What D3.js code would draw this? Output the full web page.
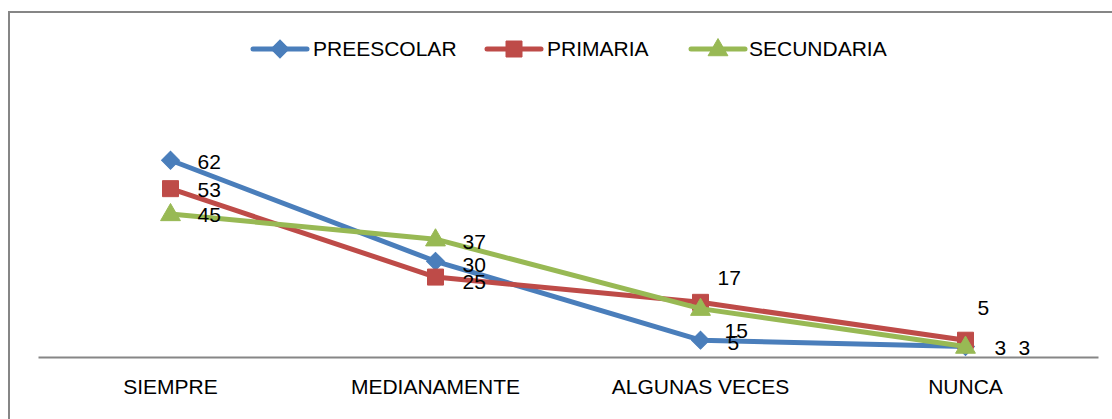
<!DOCTYPE html>
<html><head><meta charset="utf-8">
<script src="https://cdn.jsdelivr.net/npm/d3@7"></script>
<style>
html,body{margin:0;padding:0;background:#fff;}
svg{display:block;}
text{font-family:"Liberation Sans",Arial,sans-serif;fill:#000;}
</style></head>
<body>
<svg id="chart" width="1112" height="419"></svg>
<script>
const categories = ["SIEMPRE", "MEDIANAMENTE", "ALGUNAS VECES", "NUNCA"];
const seriesNames = ["PREESCOLAR", "PRIMARIA", "SECUNDARIA"];
const preescolar = [62, 30, 5, 3];
const primaria = [53, 25, 17, 5];
const secundaria = [45, 37, 15, 3];
const yMax = 70;

const colors = ["#4A7EBB", "#BE4B48", "#98B954"];
const shapes = ["diamond", "square", "triangle"];
const values = [preescolar, primaria, secundaria];

// per-label offsets (dx from point centre, dy of text centre from point centre)
const labelOffsets = [
  [[27, 1], [27, 3], [27, 2], [29, 1]],
  [[27, 1], [27, 5], [17, -25], [12, -33]],
  [[27, 1], [27, 2], [24, 22], [53, 1]]
];

const svg = d3.select("#chart");
const W = 1112, H = 419;

// frame
svg.append("rect").attr("x", 9).attr("y", 12).attr("width", 1300).attr("height", 600)
  .attr("fill", "none").attr("stroke", "#868686").attr("stroke-width", 2);

const x = d3.scaleBand().domain(categories).range([38, 1098]);
const y = d3.scaleLinear().domain([0, yMax]).range([356, 135]);
const cx = c => x(c) + x.bandwidth() / 2;

// category axis
const xAxis = d3.axisBottom(x).tickSize(0).tickPadding(22);
const gx = svg.append("g").attr("transform", "translate(0,357)").call(xAxis);
gx.select(".domain").attr("stroke", "#868686").attr("stroke-width", 2);
gx.selectAll("text").attr("font-size", 21).attr("font-family", "Liberation Sans, Arial, sans-serif").attr("fill", "#000");

function marker(g, shape, color, px, py) {
  if (shape === "diamond") {
    g.append("path").attr("d", d3.symbol().type(d3.symbolSquare).size(160)())
      .attr("transform", `translate(${px},${py}) rotate(45)`)
      .attr("fill", color).attr("stroke", color).attr("stroke-width", 1);
  } else if (shape === "square") {
    g.append("path").attr("d", d3.symbol().type(d3.symbolSquare).size(256)())
      .attr("transform", `translate(${px},${py})`)
      .attr("fill", color).attr("stroke", color).attr("stroke-width", 1);
  } else {
    g.append("path").attr("d", d3.symbol().type(d3.symbolTriangle).size(170)())
      .attr("transform", `translate(${px},${py + 1})`)
      .attr("fill", color).attr("stroke", color).attr("stroke-width", 1);
  }
}

const line = d3.line().x((d, i) => cx(categories[i])).y(d => y(d));

values.forEach((vals, s) => {
  const g = svg.append("g");
  g.append("path").datum(vals).attr("d", line)
    .attr("fill", "none").attr("stroke", colors[s]).attr("stroke-width", 5)
    .attr("stroke-linejoin", "round").attr("stroke-linecap", "round");
  vals.forEach((v, i) => marker(g, shapes[s], colors[s], cx(categories[i]), y(v)));
});

// data labels (drawn on top)
values.forEach((vals, s) => {
  vals.forEach((v, i) => {
    const o = labelOffsets[s][i];
    svg.append("text").attr("x", cx(categories[i]) + o[0]).attr("y", y(v) + o[1])
      .attr("dy", "0.35em").attr("font-size", 21).text(v);
  });
});

// legend
const legendItems = [{x0: 253, tx: 313}, {x0: 487, tx: 547}, {x0: 691, tx: 749}];
seriesNames.forEach((name, s) => {
  const lg = svg.append("g");
  const l = legendItems[s];
  lg.append("line").attr("x1", l.x0).attr("x2", l.x0 + 54).attr("y1", 49).attr("y2", 49)
    .attr("stroke", colors[s]).attr("stroke-width", 5).attr("stroke-linecap", "round");
  marker(lg, shapes[s], colors[s], l.x0 + 27, 49);
  lg.append("text").attr("x", l.tx).attr("y", 49).attr("dy", "0.35em")
    .attr("font-size", 21).text(name);
});
</script>
</body></html>
